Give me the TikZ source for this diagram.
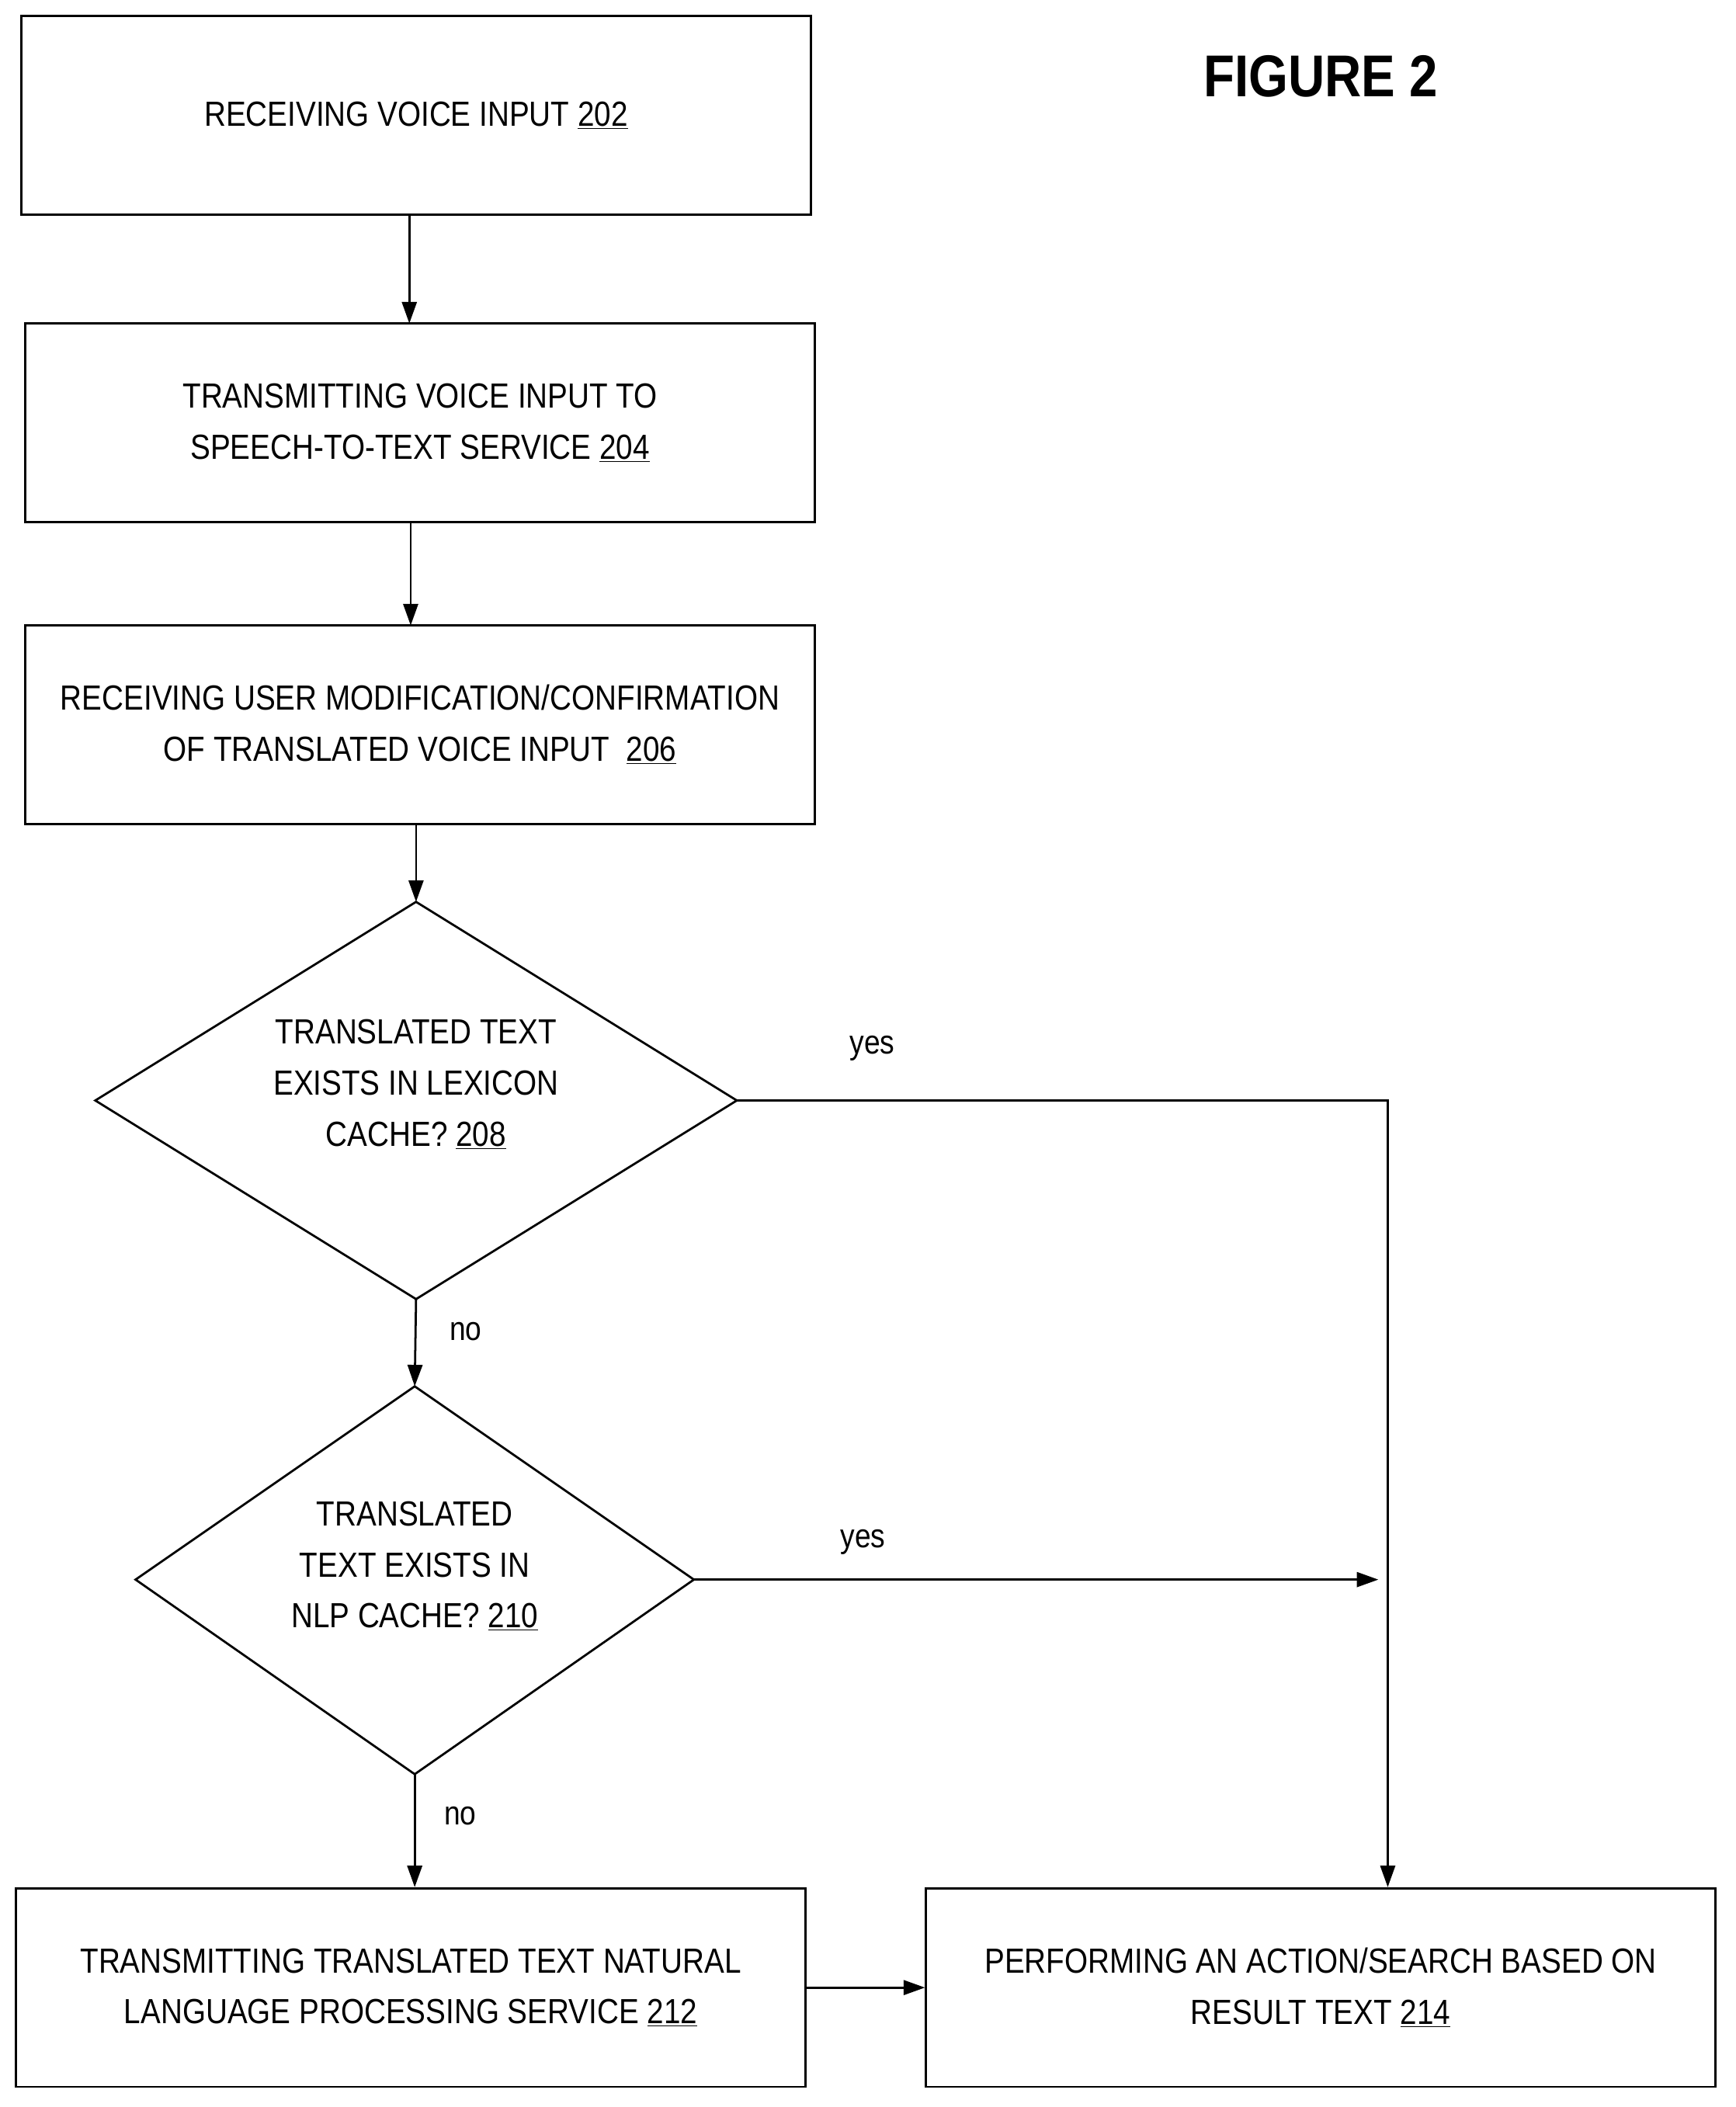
\documentclass[tikz,border=0pt]{standalone}
\usepackage{fontspec}
\setmainfont{Liberation Sans}[FakeStretch=0.86]
\usetikzlibrary{arrows.meta,shapes.geometric}
\begin{document}
\begin{tikzpicture}[x=1pt,y=-1pt,
 box/.style={draw,line width=1.6pt,minimum width=588pt,minimum height=148pt,align=center,inner sep=0,font=\fontsize{26}{38}\selectfont},
 dia/.style={draw,line width=1.6pt,diamond,inner sep=0,align=center,font=\fontsize{26}{38}\selectfont},
 arr/.style={line width=1.6pt,-{Triangle[length=16pt,width=11pt]}},
 lbl/.style={font=\fontsize{25}{30}\selectfont}]
\useasboundingbox (0,0) rectangle (1293,1570);
\node[box] (b202) at (310,86) {RECEIVING VOICE INPUT \underline{202}};
\node[box] (b204) at (313,315) {TRANSMITTING VOICE INPUT TO\\SPEECH-TO-TEXT SERVICE \underline{204}};
\node[box] (b206) at (313,540) {RECEIVING USER MODIFICATION/CONFIRMATION\\OF TRANSLATED VOICE INPUT\ \ \underline{206}};
\draw[line width=1.6pt] (71,820) coordinate (d8l) -- (310,672) coordinate (d8t) -- (549,820) coordinate (d8r) -- (310,968) coordinate (d8b) -- cycle;
\node[lbl,font=\fontsize{26}{38}\selectfont,align=center] (t208) at (310,808) {TRANSLATED TEXT\\EXISTS IN LEXICON\\CACHE? \underline{208}};
\draw[line width=1.6pt] (101,1177) coordinate (d0l) -- (309,1033) coordinate (d0t) -- (517,1177) coordinate (d0r) -- (309,1322) coordinate (d0b) -- cycle;
\node[lbl,font=\fontsize{26}{38}\selectfont,align=center] (t210) at (309,1167) {TRANSLATED\\TEXT EXISTS IN\\NLP CACHE? \underline{210}};
\node[box] (b212) at (306,1481) {TRANSMITTING TRANSLATED TEXT NATURAL\\LANGUAGE PROCESSING SERVICE \underline{212}};
\node[box] (b214) at (984,1481) {PERFORMING AN ACTION/SEARCH BASED ON\\RESULT TEXT \underline{214}};
\node[font=\bfseries\fontsize{44}{50}\selectfont] (fig) at (984,57) {FIGURE 2};
\coordinate (c1) at (1034,820);
\coordinate (c2) at (1027,1177);
\draw[arr] (b202.south -| 305,0) -- (305,241);
\draw[arr] (306,389) -- (306,466);
\draw[arr] (310,614) -- (d8t);
\draw[arr] (d8b) -- (d0t);
\draw[arr] (d0b) -- (b212.north -| d0b);
\draw[arr] (d8r) -- (c1) -- (b214.north -| c1);
\draw[arr] (d0r) -- (c2);
\draw[arr] (b212.east) -- (b214.west);
\node[lbl] (y1) at (650,781) {yes};
\node[lbl] (y2) at (643,1149) {yes};
\node[lbl] (n1) at (347,992) {no};
\node[lbl] (n2) at (343,1353) {no};
\end{tikzpicture}
\end{document}
